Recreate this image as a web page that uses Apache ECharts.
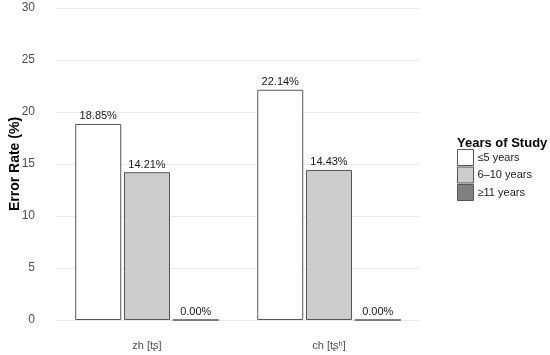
<!DOCTYPE html>
<html>
<head>
<meta charset="utf-8">
<script src="https://cdn.jsdelivr.net/npm/echarts@6/dist/echarts.min.js"></script>
<style>
  html, body { margin: 0; padding: 0; background: #fff; }
  #chart { width: 550px; height: 355px; }
</style>
</head>
<body>
<div id="chart"></div>
<script>
// 数据
var categories = ['zh [tʂ]', 'ch [tʂʰ]']
var groups = ['≤5 years', '6–10 years', '≥11 years']
var yearsLow = [18.85, 22.14]
var yearsMid = [14.21, 14.43]
var yearsHigh = [0.00, 0.00]
var yTicks = [0, 5, 10, 15, 20, 25, 30]

var colors = ['#ffffff', '#cccccc', '#808080']
var values = [yearsLow, yearsMid, yearsHigh]

var myChart = echarts.init(document.getElementById('chart'))

var series = groups.map(function (name, i) {
    return {
        name: name,
        type: 'bar',
        data: values[i],
        barWidth: 46,
        barGap: '6%',
        itemStyle: {
            color: colors[i],
            borderColor: '#555555',
            borderWidth: 1
        },
        label: {
            show: true,
            position: 'top',
            distance: 2,
            color: '#1a1a1a',
            fontFamily: 'Liberation Sans',
            fontSize: 11,
            formatter: function (p) { return p.value.toFixed(2) + '%' }
        }
    }
})

var option = {
    animation: false,
    grid: { left: 56, right: 130, top: 8, bottom: 35, outerBoundsMode: 'none' },
    title: {
        text: 'Years of Study',
        left: 457,
        top: 137,
        padding: 0,
        textStyle: { fontFamily: 'Liberation Sans', fontSize: 13, fontWeight: 'bold', color: '#000' }
    },
    legend: {
        orient: 'vertical',
        left: 457,
        top: 149,
        padding: 0,
        itemWidth: 16,
        itemHeight: 16,
        itemGap: 0.5,
        icon: 'rect',
        data: groups,
        textStyle: { fontFamily: 'Liberation Sans', fontSize: 11, color: '#1a1a1a', padding: [0, 0, 0, -1] },
        itemStyle: { borderColor: '#555555', borderWidth: 1 }
    },
    xAxis: {
        type: 'category',
        data: categories,
        axisLine: { show: false },
        axisTick: { show: false },
        axisLabel: { margin: 20, color: '#4d4d4d', fontFamily: 'Liberation Sans', fontSize: 11 }
    },
    yAxis: {
        type: 'value',
        min: yTicks[0],
        max: yTicks[yTicks.length - 1],
        interval: 5,
        name: 'Error Rate (%)',
        nameLocation: 'middle',
        nameGap: 34,
        nameMoveOverlap: false,
        nameTextStyle: { fontFamily: 'Liberation Sans', fontSize: 14, fontWeight: 'bold', color: '#000' },
        axisLabel: { color: '#4d4d4d', fontFamily: 'Liberation Sans', fontSize: 12, margin: 21 },
        splitLine: { lineStyle: { color: '#ebebeb', width: 1 } }
    },
    series: series
}

myChart.setOption(option)
window.addEventListener('resize', function () {
    myChart.resize()
})
</script>
</body>
</html>
